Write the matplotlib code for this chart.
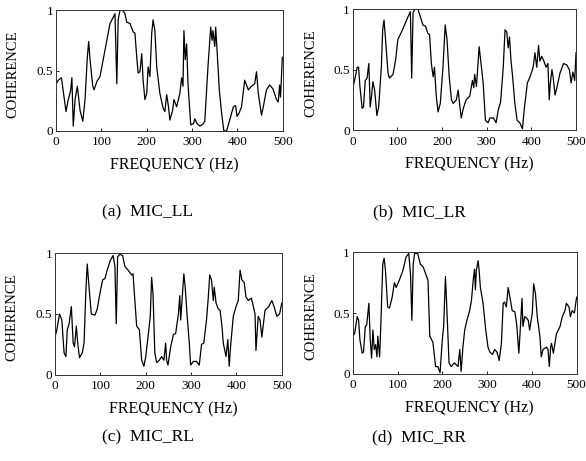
import matplotlib
matplotlib.use("Agg")
import matplotlib.pyplot as plt

plt.rcParams['font.family'] = ['Liberation Serif', 'DejaVu Serif']

# (a) MIC_LL
freq_ll = [0, 5, 12, 22, 27, 32, 35, 38, 42, 47, 53, 59, 64, 69, 72, 75, 81, 84, 90, 97, 104, 112, 119, 126, 130, 134, 137, 141, 147, 152, 156, 163, 170, 174, 178, 181, 185, 189, 192, 196, 200, 203, 207, 211, 214, 218, 222, 229, 236, 240, 244, 248, 251, 257, 260, 266, 273, 277, 280, 282, 285, 288, 291, 297, 303, 306, 311, 317, 325, 328, 335, 341, 344, 346, 350, 352, 355, 360, 365, 370, 376, 383, 391, 396, 399, 404, 409, 416, 424, 431, 438, 442, 446, 453, 457, 464, 471, 478, 486, 490, 493, 495, 499]
coh_ll = [0.39, 0.42, 0.44, 0.16, 0.26, 0.33, 0.44, 0.04, 0.26, 0.37, 0.17, 0.08, 0.26, 0.61, 0.74, 0.59, 0.37, 0.34, 0.41, 0.45, 0.59, 0.75, 0.89, 0.94, 0.97, 0.39, 0.92, 1.0, 1.0, 0.97, 0.90, 0.89, 0.82, 0.81, 0.61, 0.48, 0.49, 0.64, 0.42, 0.26, 0.31, 0.53, 0.45, 0.81, 0.92, 0.83, 0.53, 0.31, 0.19, 0.16, 0.30, 0.20, 0.09, 0.17, 0.26, 0.20, 0.31, 0.44, 0.37, 0.83, 0.59, 0.72, 0.39, 0.05, 0.06, 0.10, 0.06, 0.04, 0.06, 0.08, 0.53, 0.86, 0.75, 0.83, 0.70, 0.86, 0.67, 0.34, 0.15, 0.0, 0.0, 0.09, 0.20, 0.21, 0.12, 0.15, 0.20, 0.42, 0.34, 0.37, 0.39, 0.49, 0.31, 0.13, 0.20, 0.34, 0.38, 0.35, 0.26, 0.24, 0.38, 0.28, 0.61]

# (b) MIC_LR
freq_lr = [0, 4, 10, 13, 16, 21, 24, 28, 32, 36, 39, 42, 45, 49, 54, 58, 64, 67, 70, 73, 79, 82, 90, 96, 101, 109, 116, 124, 129, 132, 135, 139, 146, 152, 157, 163, 168, 172, 176, 180, 183, 187, 191, 196, 202, 207, 211, 216, 221, 225, 232, 236, 240, 243, 247, 251, 254, 262, 268, 271, 273, 277, 283, 286, 292, 297, 303, 307, 315, 321, 326, 331, 337, 341, 345, 348, 351, 354, 358, 363, 368, 374, 380, 384, 391, 397, 404, 408, 412, 416, 419, 423, 428, 433, 437, 440, 442, 446, 449, 453, 457, 464, 472, 479, 485, 489, 493, 497, 500]
coh_lr = [0.35, 0.41, 0.52, 0.52, 0.36, 0.18, 0.19, 0.41, 0.43, 0.55, 0.19, 0.28, 0.40, 0.33, 0.12, 0.19, 0.52, 0.83, 0.91, 0.77, 0.47, 0.43, 0.46, 0.58, 0.75, 0.81, 0.87, 0.94, 0.98, 0.43, 0.97, 1.0, 1.0, 0.93, 0.87, 0.86, 0.80, 0.79, 0.55, 0.44, 0.52, 0.28, 0.15, 0.22, 0.52, 0.87, 0.75, 0.44, 0.25, 0.22, 0.25, 0.33, 0.19, 0.10, 0.17, 0.22, 0.25, 0.28, 0.41, 0.35, 0.46, 0.36, 0.69, 0.59, 0.39, 0.08, 0.06, 0.10, 0.10, 0.06, 0.17, 0.23, 0.52, 0.83, 0.81, 0.68, 0.77, 0.59, 0.44, 0.22, 0.08, 0.06, 0.01, 0.17, 0.39, 0.44, 0.52, 0.64, 0.52, 0.70, 0.57, 0.61, 0.57, 0.52, 0.55, 0.25, 0.37, 0.50, 0.43, 0.29, 0.35, 0.47, 0.55, 0.54, 0.50, 0.39, 0.48, 0.41, 0.64]

# (c) MIC_RL
freq_rl = [0, 4, 10, 15, 20, 24, 27, 31, 36, 40, 43, 47, 50, 54, 60, 64, 68, 71, 75, 80, 88, 93, 99, 105, 110, 115, 122, 128, 132, 135, 138, 143, 149, 154, 161, 169, 172, 176, 180, 186, 191, 196, 200, 205, 210, 213, 216, 220, 224, 230, 235, 240, 244, 246, 249, 255, 261, 266, 272, 275, 277, 280, 284, 287, 291, 296, 299, 305, 312, 318, 323, 328, 334, 338, 341, 345, 349, 351, 355, 360, 364, 368, 371, 377, 381, 384, 387, 393, 399, 404, 408, 412, 417, 421, 426, 433, 441, 443, 448, 452, 456, 463, 471, 478, 483, 489, 495, 500]
coh_rl = [0.31, 0.37, 0.50, 0.45, 0.18, 0.15, 0.37, 0.42, 0.56, 0.26, 0.23, 0.40, 0.26, 0.14, 0.18, 0.26, 0.69, 0.91, 0.72, 0.50, 0.49, 0.54, 0.67, 0.78, 0.79, 0.86, 0.94, 0.98, 0.89, 0.42, 0.97, 0.99, 0.98, 0.89, 0.86, 0.82, 0.83, 0.61, 0.40, 0.37, 0.12, 0.07, 0.15, 0.31, 0.48, 0.80, 0.67, 0.18, 0.10, 0.12, 0.15, 0.12, 0.26, 0.12, 0.08, 0.23, 0.33, 0.34, 0.50, 0.65, 0.45, 0.61, 0.83, 0.72, 0.50, 0.26, 0.08, 0.11, 0.11, 0.08, 0.25, 0.26, 0.45, 0.64, 0.82, 0.78, 0.61, 0.72, 0.59, 0.54, 0.53, 0.40, 0.26, 0.15, 0.29, 0.07, 0.23, 0.48, 0.56, 0.61, 0.86, 0.78, 0.76, 0.64, 0.61, 0.63, 0.50, 0.20, 0.48, 0.45, 0.31, 0.53, 0.56, 0.61, 0.56, 0.48, 0.50, 0.59]

# (d) MIC_RR
freq_rr = [0, 4, 10, 13, 16, 21, 24, 28, 31, 36, 39, 42, 45, 48, 51, 54, 56, 60, 63, 67, 70, 73, 78, 82, 88, 93, 97, 104, 112, 119, 125, 129, 132, 135, 138, 145, 151, 157, 163, 168, 172, 179, 185, 190, 195, 200, 203, 207, 210, 215, 220, 227, 235, 239, 242, 246, 250, 255, 261, 265, 269, 272, 274, 276, 280, 282, 285, 291, 297, 302, 306, 312, 317, 322, 327, 332, 336, 339, 343, 347, 351, 356, 362, 366, 371, 374, 378, 380, 384, 388, 392, 395, 401, 404, 408, 412, 418, 421, 425, 433, 436, 439, 442, 444, 448, 455, 463, 468, 474, 477, 483, 486, 490, 495, 500]
coh_rr = [0.31, 0.33, 0.47, 0.44, 0.28, 0.17, 0.18, 0.39, 0.40, 0.58, 0.28, 0.13, 0.36, 0.20, 0.24, 0.14, 0.31, 0.14, 0.44, 0.90, 0.95, 0.85, 0.55, 0.54, 0.63, 0.75, 0.71, 0.77, 0.85, 0.96, 0.99, 0.82, 0.44, 0.90, 0.99, 0.99, 0.90, 0.88, 0.82, 0.77, 0.31, 0.26, 0.06, 0.06, 0.01, 0.28, 0.39, 0.80, 0.55, 0.09, 0.06, 0.09, 0.06, 0.20, 0.02, 0.22, 0.36, 0.44, 0.52, 0.60, 0.77, 0.86, 0.69, 0.85, 0.93, 0.86, 0.71, 0.58, 0.36, 0.22, 0.18, 0.16, 0.20, 0.18, 0.11, 0.25, 0.58, 0.59, 0.55, 0.71, 0.63, 0.52, 0.51, 0.41, 0.17, 0.36, 0.62, 0.39, 0.47, 0.46, 0.44, 0.36, 0.50, 0.74, 0.66, 0.47, 0.31, 0.14, 0.20, 0.22, 0.20, 0.06, 0.22, 0.25, 0.17, 0.33, 0.39, 0.47, 0.52, 0.58, 0.55, 0.47, 0.52, 0.50, 0.63]

captions = ['(a)  MIC_LL', '(b)  MIC_LR', '(c)  MIC_RL', '(d)  MIC_RR']
series = [(freq_ll, coh_ll), (freq_lr, coh_lr), (freq_rl, coh_rl), (freq_rr, coh_rr)]
x_ticks = [0, 100, 200, 300, 400, 500]
y_ticks = [0, 0.5, 1]
y_tick_labels = ['0', '0.5', '1']

fig = plt.figure(figsize=(5.86, 4.61), dpi=100)
boxes = [
    [0.0956, 0.716, 0.387, 0.262],
    [0.602, 0.718, 0.381, 0.262],
    [0.0939, 0.187, 0.387, 0.264],
    [0.602, 0.189, 0.382, 0.264],
]
caption_pos = [(148 / 586, 1 - 212 / 461), (419 / 586, 1 - 212 / 461),
               (148 / 586, 1 - 437 / 461), (419 / 586, 1 - 437 / 461)]

for box, (f, c), cap, cp in zip(boxes, series, captions, caption_pos):
    ax = fig.add_axes(box)
    ax.plot(f, c, color='black', lw=0.9)
    ax.set_xlim(0, 500)
    ax.set_ylim(0, 1)
    ax.set_xticks(x_ticks)
    ax.set_yticks(y_ticks)
    ax.set_yticklabels(y_tick_labels)
    ax.tick_params(direction='in', length=2, width=0.6, labelsize=9.5)
    ax.tick_params(axis='x', pad=4)
    ax.tick_params(axis='y', pad=2)
    for s in ax.spines.values():
        s.set_linewidth(0.7)
        s.set_color('#333333')
    ax.set_xlabel('FREQUENCY (Hz)', fontsize=11.5)
    ax.set_ylabel('COHERENCE', fontsize=10.5)
    ax.xaxis.set_label_coords(0.52, -0.215)
    ax.yaxis.set_label_coords(-0.16, 0.47)
    fig.text(cp[0], cp[1], cap, ha='center', va='center', fontsize=12.5)

fig.savefig('out.png', dpi=100)
